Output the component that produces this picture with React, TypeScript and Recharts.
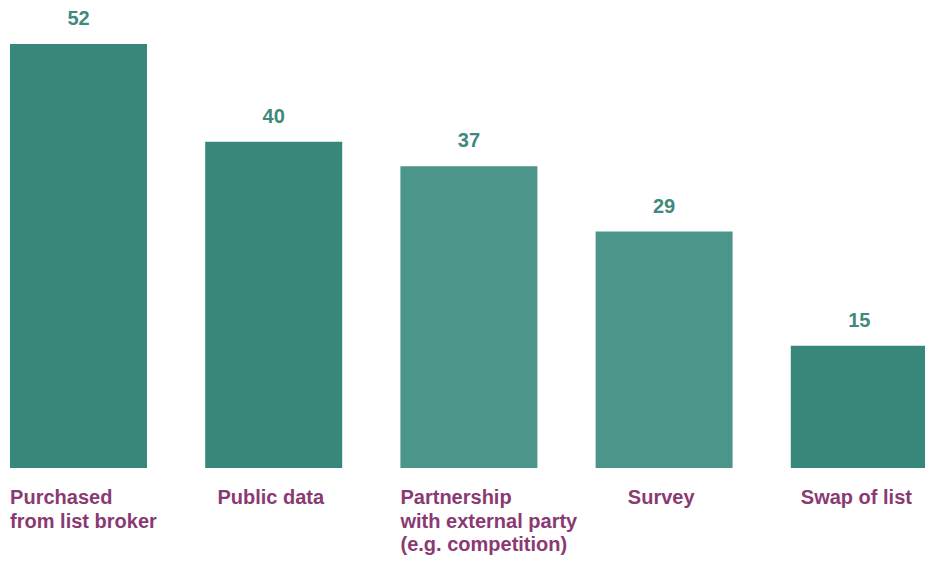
import { BarChart, Bar, XAxis, YAxis, Cell, LabelList } from "recharts";

// Categories (each split into its printed lines) and values
const categories: string[][] = [
  ["Purchased", "from list broker"],
  ["Public data"],
  ["Partnership", "with external party", "(e.g. competition)"],
  ["Survey"],
  ["Swap of list"],
];
const values: number[] = [52, 40, 37, 29, 15];
const shades: string[] = ["dark", "dark", "light", "light", "dark"];

const data = categories.map((lines, i) => ({
  name: lines.join(" "),
  lines,
  value: values[i],
  shade: shades[i],
}));

const DARK = "#37877a";
const LIGHT = "#4c958a";
const PURPLE = "#8a3a72";
const FONT = "Arial, 'Liberation Sans', sans-serif";
const BAR_SIZE = 137;

interface TickProps {
  x?: number;
  y?: number;
  index?: number;
}

// Single-line labels are centred, multi-line labels start at the bar's left edge
const CategoryTick = (props: TickProps) => {
  const { x = 0, y = 0, index = 0 } = props;
  const lines = data[index].lines;
  const multi = lines.length > 1;
  const tx = multi ? x - BAR_SIZE / 2 : x - 3;
  return (
    <text
      x={tx}
      y={y + 28}
      textAnchor={multi ? "start" : "middle"}
      fill={PURPLE}
      fontFamily={FONT}
      fontWeight="bold"
      fontSize={20}
    >
      {lines.map((line, i) => (
        <tspan key={i} x={tx} dy={i === 0 ? 0 : 23.5}>
          {line}
        </tspan>
      ))}
    </text>
  );
};

const App = () => {
  return (
    <div
      style={{
        position: "absolute",
        left: 0,
        top: 0,
        width: 925,
        height: 561,
        overflow: "hidden",
        background: "#fff",
      }}
    >
      <div style={{ position: "absolute", left: -19, top: 0 }}>
        <BarChart
          width={976}
          height={561}
          data={data}
          margin={{ top: 44, right: 0, bottom: 0, left: 0 }}
        >
          <XAxis
            dataKey="name"
            height={93}
            axisLine={false}
            tickLine={false}
            interval={0}
            tick={<CategoryTick />}
          />
          <YAxis hide domain={[0, 52]} />
          <Bar dataKey="value" barSize={BAR_SIZE} isAnimationActive={false}>
            {data.map((d, i) => (
              <Cell key={i} fill={d.shade === "dark" ? DARK : LIGHT} />
            ))}
            <LabelList
              dataKey="value"
              position="top"
              offset={19}
              fill="#3f8a7c"
              fontFamily={FONT}
              fontWeight="bold"
              fontSize={20}
            />
          </Bar>
        </BarChart>
      </div>
    </div>
  );
};

export default App;
